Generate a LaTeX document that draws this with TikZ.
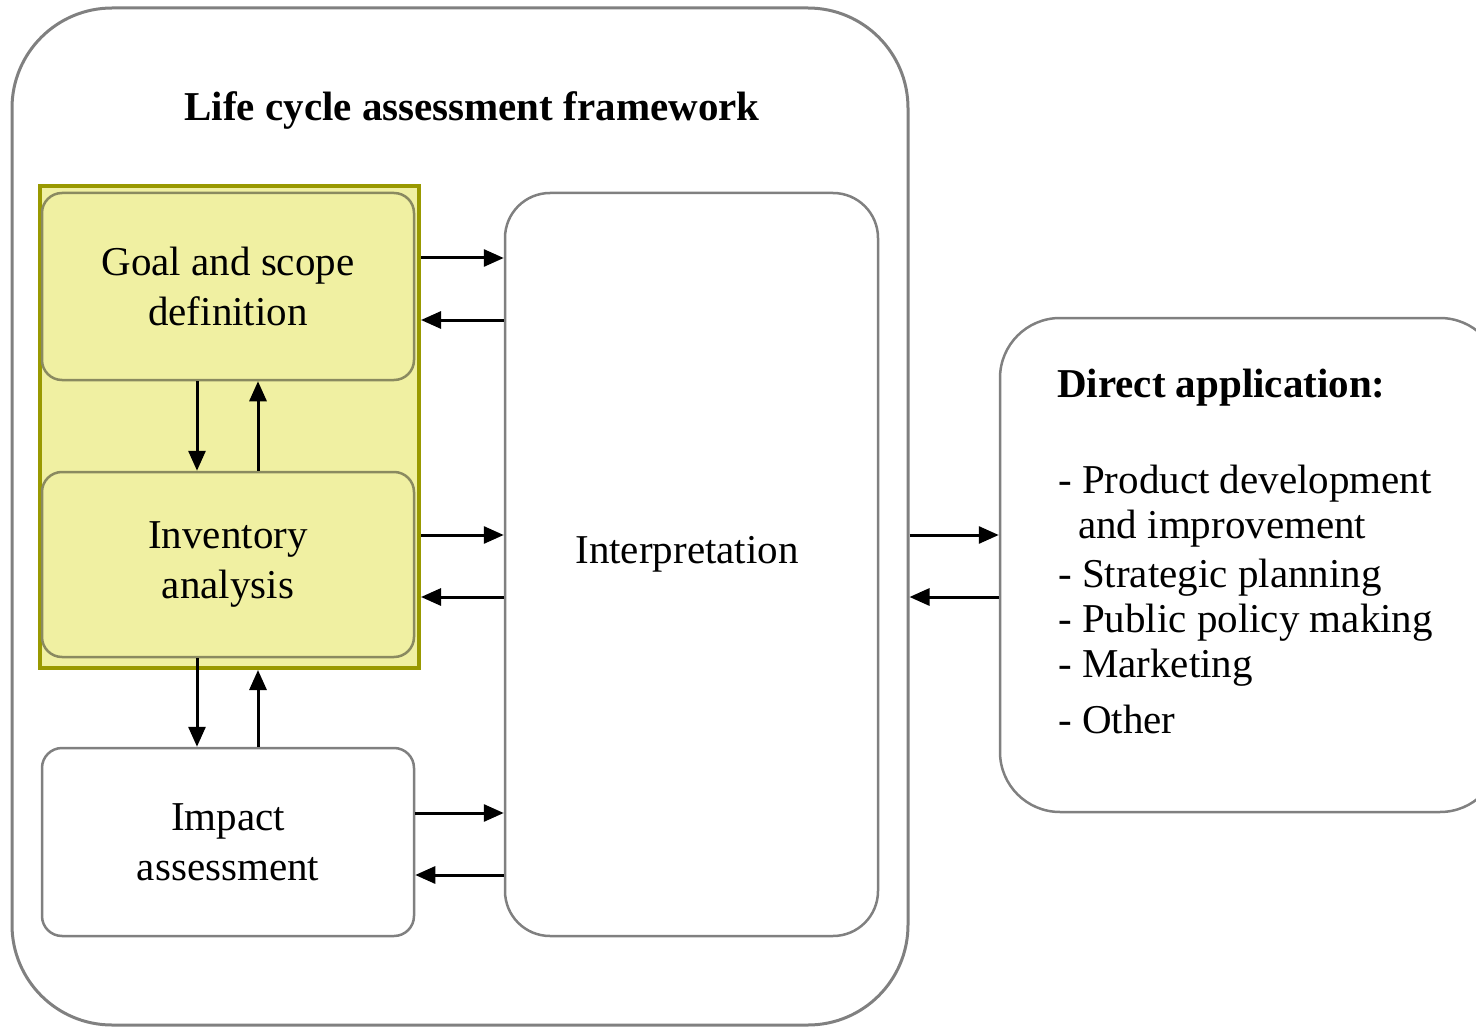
\documentclass[tikz,border=0pt]{standalone}
\usepackage{fontspec}
\setmainfont{Liberation Serif}
\usetikzlibrary{arrows.meta}
\definecolor{edgegray}{HTML}{808080}
\definecolor{phaseedge}{HTML}{999900}
\definecolor{phasefill}{HTML}{F0F0A2}
\definecolor{inneredge}{HTML}{8A8A60}
\begin{document}
\begin{tikzpicture}[x=1pt,y=-1pt,
  box/.style={draw=edgegray, line width=2.5pt, rounded corners=20pt, inner sep=0pt,
    align=center, font=\fontsize{41}{50}\selectfont},
  phase/.style={box, fill=phasefill, draw=inneredge},
  txt/.style={font=\fontsize{41}{50}\selectfont, inner sep=0pt},
  link/.style={draw=black, line width=3pt, -{Triangle[length=20pt,width=17pt]}},
]
\useasboundingbox (0,0) rectangle (1476,1027);

% outer frame of the framework
\node[box, line width=3pt, rounded corners=100pt, minimum width=896pt, minimum height=1017pt]
  (lca) at (460,516.5) {};
\node[font=\bfseries\fontsize{41}{48}\selectfont, inner sep=0pt] (title) at (472,110)
  {Life cycle assessment framework};

% highlighted group of the first two phases
\node[draw=phaseedge, line width=4pt, fill=phasefill, inner sep=0pt,
  minimum width=379pt, minimum height=482pt] (phases) at (229.5,427) {};

\node[phase, minimum width=372pt, minimum height=187pt] (goal) at (228,286.5)
  {Goal and scope\\definition};
\node[phase, minimum width=372pt, minimum height=185pt] (inv) at (228,564.5)
  {Inventory\\analysis};
\node[box, fill=white, minimum width=372pt, minimum height=188pt] (impact) at (228,842)
  {Impact\\assessment};

% interpretation
\node[box, rounded corners=45pt, minimum width=373pt, minimum height=743pt] (interp) at (691.5,564.5) {};
\node[txt] (interptext) at (687,554) {Interpretation};

% direct application
\node[box, rounded corners=60pt, minimum width=500pt, minimum height=494pt] (app) at (1250,565) {};
\node[font=\bfseries\fontsize{41}{48}\selectfont, inner sep=0pt, anchor=base west] (apphead) at (1057,397) {Direct application:};
\node[txt, anchor=base west] (app1) at (1058,493) {- Product development};
\node[txt, anchor=base west] (app2) at (1078,538) {and improvement};
\node[txt, anchor=base west] (app3) at (1058,587) {- Strategic planning};
\node[txt, anchor=base west] (app4) at (1058,632) {- Public policy making};
\node[txt, anchor=base west] (app5) at (1058,677) {- Marketing};
\node[txt, anchor=base west] (app6) at (1058,733) {- Other};

% phases <-> interpretation
\draw[link] ([yshift=28.5pt]goal.east -| phases.east) -- ([yshift=28.5pt]goal.east -| interp.west);
\draw[link] ([yshift=-33.5pt]goal.east -| interp.west) -- ([yshift=-33.5pt]goal.east -| phases.east);
\draw[link] ([yshift=29.5pt]inv.east -| phases.east) -- ([yshift=29.5pt]inv.east -| interp.west);
\draw[link] ([yshift=-32.5pt]inv.east -| interp.west) -- ([yshift=-32.5pt]inv.east -| phases.east);
\draw[link] ([yshift=29pt]impact.east) -- ([yshift=29pt]impact.east -| interp.west);
\draw[link] ([yshift=-33pt]impact.east -| interp.west) -- ([yshift=-33pt]impact.east);

% phase to phase
\draw[link] ([xshift=-31pt]goal.south) -- ([xshift=-31pt]goal.south |- inv.north);
\draw[link] ([xshift=30pt]inv.north) -- ([xshift=30pt]inv.north |- goal.south);
\draw[link] ([xshift=-31pt]inv.south) -- ([xshift=-31pt]inv.south |- impact.north);
\draw[link] ([xshift=30pt]impact.north) -- ([xshift=30pt]impact.north |- phases.south);

% framework <-> direct application
\draw[link] ([yshift=29.5pt]interp.center -| lca.east) -- ([yshift=29.5pt]interp.center -| app.west);
\draw[link] ([yshift=-32.5pt]interp.center -| app.west) -- ([yshift=-32.5pt]interp.center -| lca.east);
\end{tikzpicture}
\end{document}
